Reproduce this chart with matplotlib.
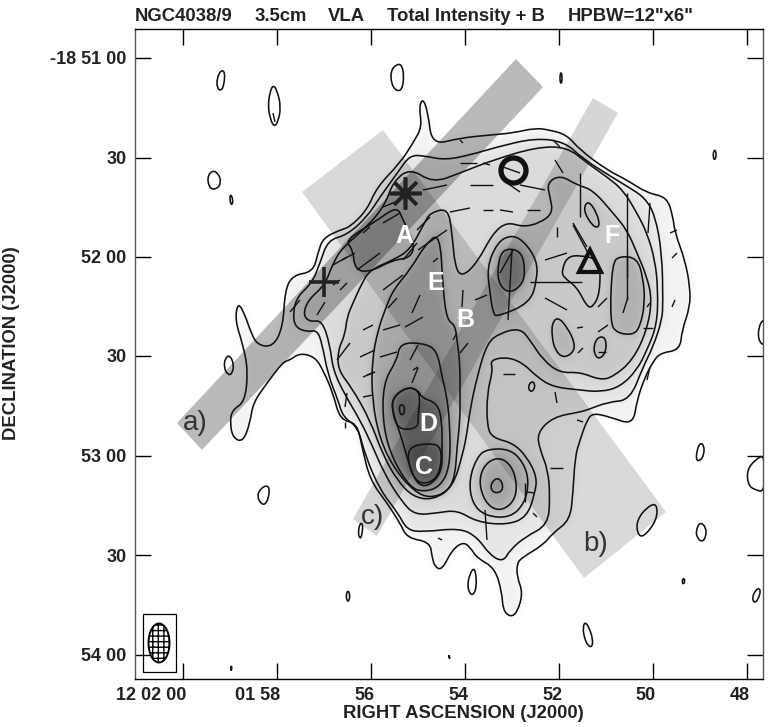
import numpy as np
import matplotlib
matplotlib.use('Agg')
import matplotlib.pyplot as plt
from matplotlib.collections import LineCollection
from matplotlib.patches import Ellipse, PathPatch, Rectangle
from matplotlib.path import Path
from matplotlib.transforms import ScaledTranslation

plt.rcParams['font.family'] = ['Liberation Sans', 'DejaVu Sans']

# everything below is in map cells of the radio image
ra_ticks = [183, 277, 371, 465, 559, 653, 747]
ra_labels = ['12 02 00', '01 58', '56', '54', '52', '50', '48']
dec_ticks = [58, 158, 257, 356, 456, 555.5, 655]
dec_labels = ['-18 51 00', '30', '52 00', '30', '53 00', '30', '54 00']

outer = [(423,98),(428,113),(432,145),(460,138),(490,135),(513,133),(535,128),(550,130),(567,135),(580,150),(607,170),(627,180),(647,193),(667,197),(673,217),(675,233),(685,260),(690,287),(690,307),(682,330),(680,350),(660,353),(653,362),(645,377),(637,400),(633,425),(610,417),(593,413),(587,420),(580,440),(575,457),(573,493),(570,520),(553,533),(543,545),(523,557),(517,563),(517,577),(523,593),(517,613),(510,617),(503,610),(502,593),(495,568),(477,558),(470,547),(463,542),(452,550),(442,570),(435,567),(432,557),(430,542),(407,538),(400,523),(387,503),(370,480),(362,447),(357,423),(340,420),(333,393),(323,370),(315,357),(300,353),(290,360),(283,362),(267,383),(253,403),(250,423),(243,442),(233,438),(230,423),(232,410),(245,402),(248,370),(243,345),(235,320),(238,302),(245,315),(250,330),(257,345),(273,347),(283,327),(285,290),(293,275),(313,272),(318,253),(323,238),(340,230),(350,227),(367,210),(377,187),(400,163),(413,143),(422,127),(419,107)]
level2 = [(398,172),(410,155),(425,156),(445,160),(470,155),(497,147),(535,138),(565,142),(582,158),(610,176),(630,188),(645,198),(655,215),(662,253),(663,303),(662,320),(653,347),(643,367),(630,400),(608,402),(587,410),(580,412),(553,417),(537,433),(540,450),(548,470),(550,497),(548,525),(525,537),(510,550),(503,562),(490,555),(477,537),(460,528),(423,532),(407,530),(398,513),(380,490),(365,455),(358,427),(343,417),(338,400),(328,375),(322,343),(317,330),(307,332),(295,327),(293,313),(297,297),(312,283),(320,263),(328,240),(347,235),(367,217),(380,197)]
level3 = [(393,182),(410,168),(433,183),(460,173),(493,160),(537,147),(567,147),(587,163),(607,177),(623,190),(637,213),(647,233),(655,260),(658,290),(657,325),(647,350),(637,370),(620,387),(600,392),(580,390),(553,387),(537,377),(523,363),(507,357),(490,360),(493,370),(487,393),(487,427),(493,438),(513,443),(527,457),(537,477),(535,493),(527,517),(507,525),(477,522),(457,510),(437,513),(415,515),(402,502),(385,475),(372,445),(360,420),(345,395),(333,370),(330,345),(322,320),(310,322),(303,315),(308,300),(325,285),(333,263),(343,247),(367,227),(385,205)]
level4 = [(338,370),(338,350),(345,335),(347,317),(353,303),(362,283),(370,270),(393,260),(410,250),(425,222),(430,213),(448,208),(452,233),(455,267),(462,277),(477,263),(493,233),(507,222),(523,227),(540,223),(553,213),(550,197),(547,183),(560,175),(577,185),(593,190),(613,213),(627,230),(637,253),(647,277),(652,300),(647,330),(633,360),(613,377),(600,380),(580,372),(560,373),(543,360),(530,340),(520,328),(500,333),(487,343),(477,377),(470,410),(467,433),(463,453),(453,487),(433,500),(413,497),(397,480),(383,455),(370,420),(352,388)]
level5 = [(443,290),(447,320),(455,325),(457,340),(460,363),(460,397),(460,420),(457,447),(455,477),(447,492),(430,498),(415,492),(395,470),(380,440),(372,400),(372,360),(378,330),(385,310),(393,290),(410,270),(425,245),(440,232)]
core1 = [(400,343),(423,343),(437,350),(442,377),(447,397),(450,427),(450,467),(440,487),(423,492),(410,487),(393,460),(383,427),(383,383),(397,360)]
core2 = [(393,397),(407,387),(418,390),(422,398),(437,403),(442,420),(442,450),(442,470),(433,483),(422,487),(413,477),(405,450),(400,433),(392,410)]
core_d = [(393,397),(407,387),(418,390),(420,400),(418,417),(418,427),(407,430),(397,427),(392,410)]
core_d2 = [(399,406),(403,404),(405,410),(403,415),(400,414)]
core_c = [(407,447),(430,443),(442,447),(440,473),(430,483),(418,483),(410,470)]
south1 = [(469,480),(477,457),(487,449),(510,449),(523,462),(529,480),(525,503),(510,518),(485,516),(472,503)]
south2 = [(479,483),(483,467),(494,458),(506,460),(515,473),(517,493),(510,506),(497,511),(485,502)]
south3 = [(490,485),(497,477),(503,483),(502,492),(493,493)]
north1 = [(493,313),(497,317),(530,303),(537,280),(537,260),(523,240),(510,235),(497,243),(487,267),(490,293)]
north2 = [(497,277),(500,253),(510,248),(522,253),(525,270),(523,283),(513,292),(503,290)]
east1 = [(612,263),(620,256),(637,258),(643,277),(645,303),(640,327),(633,335),(617,333),(610,323)]
east2 = [(552,323),(558,317),(567,327),(575,343),(573,353),(563,358),(555,350),(552,337)]
east3 = [(593,350),(597,337),(606,337),(606,353),(598,360)]
east4 = [(583,210),(588,200),(597,213),(600,227),(593,227)]
east5 = [(562,270),(567,257),(580,255),(600,260),(600,293),(593,307),(587,307),(577,287),(563,277)]
ridge_a = [(345,240),(375,222),(397,206),(403,220),(415,245),(410,258),(393,260),(370,272),(355,270),(353,250)]

levels = [outer, level2, level3, level4, level5, core1, core2, core_d, core_d2, core_c,
          south1, south2, south3, north1, north2, east1, east2, east3, east4, east5, ridge_a]
depth = [.95, .95, .95, .92, .84, .85, .78, .88, .9, .78,
         .92, .84, .86, .88, .72, .88, .9, .92, .92, 1.0, .9]

islands = [
    [(221,70),(225,72),(224,85),(221,91),(217,88),(217,78)],
    [(273,85),(277,90),(281,107),(278,122),(274,127),(270,118),(268,105),(270,92)],
    [(207,178),(212,170),(219,174),(221,183),(217,189),(210,189)],
    [(230,195),(232,196),(233,203),(231,205),(230,200)],
    [(397,64),(402,65),(404,77),(402,90),(396,91),(391,83),(391,70)],
    [(560,73),(562,73),(562,83),(560,83)],
    [(714,150),(716,151),(716,158),(714,160),(713,155)],
    [(765,318),(759,325),(758,340),(765,347)],
    [(765,454),(755,460),(747,470),(748,485),(755,490),(765,492)],
    [(700,443),(704,445),(704,455),(700,461),(696,460),(697,450)],
    [(657,503),(657,520),(643,538),(637,533),(637,520),(647,507)],
    [(700,522),(706,527),(706,537),(702,542),(697,538),(696,530)],
    [(683,578),(685,580),(684,584),(682,583)],
    [(757,588),(761,590),(758,600),(754,603),(752,597)],
    [(585,622),(589,627),(593,640),(592,647),(588,646),(584,637),(583,627)],
    [(475,567),(477,587),(472,597),(467,587),(470,573)],
    [(449,654),(450,660),(449,657)],
    [(532,381),(535,384),(534,390),(530,392),(528,386)],
    [(267,485),(270,490),(267,503),(262,505),(257,497),(260,489)],
    [(348,590),(350,595),(349,601),(347,601),(346,595)],
    [(360,523),(363,524),(362,535),(360,539),(358,533)],
    [(231,665),(232,668),(231,672)],
    [(225,358),(230,355),(234,365),(232,374),(228,375),(224,368)],
]

# polarisation vectors, start and end
b_x0 = [342,317,333,357,383,388,412,405,363,383,360,380,363,410,412,463,475,460,453,433,418,337,403,500,508,530,545,545,588,627,623,598,577,598,578,598,503,647,643,672,672,423,450,483,500,527,460,483,503,507,470,520,555,580,557,573,627,650,670,383,417,553,460,555,550,527,485,577,533,438,525,413,650,333,290,363,383,340,273,345,347,363,367]
b_y0 = [260,315,285,270,290,308,313,327,330,330,357,357,377,360,383,290,300,353,340,262,250,360,260,273,320,282,260,298,253,257,313,307,328,332,353,352,374,307,328,258,307,190,212,210,210,210,163,163,167,183,185,185,160,173,227,223,193,203,233,207,230,140,140,392,468,492,510,420,513,538,483,370,367,265,312,233,223,290,113,422,393,397,375]
b_x1 = [355,325,340,380,403,397,420,423,373,400,375,397,375,418,418,462,487,468,457,438,447,350,417,513,512,582,567,567,573,627,628,607,583,608,583,606,515,650,653,677,675,447,470,493,513,540,477,490,520,520,493,545,563,580,557,587,627,648,677,400,430,560,463,557,563,535,487,583,537,442,525,418,647,347,300,370,400,347,275,345,345,373,375]
b_y1 = [253,302,280,253,275,298,295,317,325,325,350,352,372,345,368,307,295,343,333,258,230,343,243,250,250,282,253,310,225,277,297,298,327,325,348,352,374,303,328,253,300,185,208,210,212,210,163,165,173,192,185,190,173,217,237,247,300,233,230,200,217,147,143,403,468,493,540,422,517,540,502,367,380,257,300,227,213,283,122,428,407,395,372]

# the three strips laid over the map
strip_a = [(177,423),(516,59),(543,87),(202,450)]
strip_b = [(302,192),(383,130),(666,512),(584,578)]
strip_c = [(353,519),(593,98),(618,113),(377,536)]

cross_pos = (324, 282)
star_pos = (405, 193)
ring_pos = (513, 170)
tri_pos = (590, 261)
letters = {'A': (404, 236), 'E': (436, 283), 'B': (465, 320), 'D': (428, 424), 'C': (424, 467), 'F': (612, 236)}
strip_names = {'a)': (195, 423), 'b)': (596, 544), 'c)': (372, 517)}
title_bits = [('NGC4038/9', 135), ('3.5cm', 255), ('VLA', 328), ('Total Intensity + B', 387), ('HPBW=12"x6"', 568)]


def smooth_path(poly):
    # closed quadratic curve, the read points act as control points
    n = len(poly)
    mids = [((poly[i][0] + poly[(i + 1) % n][0]) / 2, (poly[i][1] + poly[(i + 1) % n][1]) / 2) for i in range(n)]
    verts = [mids[-1]]
    codes = [Path.MOVETO]
    for i in range(n):
        verts += [poly[i], mids[i]]
        codes += [Path.CURVE3, Path.CURVE3]
    return Path(verts, codes)


def blur(a, sigma):
    r = int(3 * sigma)
    k = np.exp(-0.5 * (np.arange(-r, r + 1) / sigma) ** 2)
    k = k / k.sum()
    pad = np.pad(a, r, mode='edge')
    pad = np.apply_along_axis(lambda m: np.convolve(m, k, mode='same'), 0, pad)
    pad = np.apply_along_axis(lambda m: np.convolve(m, k, mode='same'), 1, pad)
    return pad[r:-r, r:-r]


xs = np.arange(135, 764)
ys = np.arange(29, 680)
gx, gy = np.meshgrid(xs, ys)
pts = np.column_stack((gx.ravel(), gy.ravel()))
grey = np.ones(gx.shape)
for poly, d in zip(levels, depth):
    inside = Path(poly + [poly[0]]).contains_points(pts).reshape(gx.shape)
    grey[inside] *= d
grey = blur(grey, 4.0)

fig = plt.figure(figsize=(7.71, 7.27), dpi=100)
ax = fig.add_axes([135 / 771, (727 - 679) / 727, 628 / 771, 650 / 727])
ax.imshow(grey, cmap='gray', vmin=0, vmax=1, extent=(135, 763, 679, 29), aspect='auto', zorder=1)

ax.fill(*zip(*strip_b), color='k', alpha=0.15, lw=0, zorder=2)
ax.fill(*zip(*strip_c), color='k', alpha=0.16, lw=0, zorder=2)
ax.fill(*zip(*strip_a), color='k', alpha=0.27, lw=0, zorder=2)

for poly in levels + islands:
    ax.add_patch(PathPatch(smooth_path(poly), fill=False, ec='#111111', lw=1.15, zorder=3))

segs = [[(a, b), (c, d)] for a, b, c, d in zip(b_x0, b_y0, b_x1, b_y1)]
ax.add_collection(LineCollection(segs, colors='#111111', linewidths=1.0, zorder=4))

ax.plot(*cross_pos, marker='+', ms=22, mew=2.6, color='#222222', zorder=5)
ax.plot(*star_pos, marker=(8, 2, 0), ms=23, mew=2.6, color='#222222', zorder=5)
ax.plot(*ring_pos, marker='o', ms=18, mew=3.8, mfc='none', mec='#111111', zorder=5)
ax.plot(*tri_pos, marker='^', ms=16, mew=3.0, mfc='none', mec='#111111', zorder=5)

for name, (x, y) in letters.items():
    ax.text(x, y, name, color='white', fontsize=18, fontweight='bold', ha='center', va='center', zorder=6)
for name, (x, y) in strip_names.items():
    ax.text(x, y, name, color='#333333', fontsize=20, ha='center', va='center', zorder=6)

# beam in the corner
ax.add_patch(Rectangle((143, 614), 33, 58, fill=False, ec='k', lw=0.9, zorder=5))
plt.rcParams['hatch.linewidth'] = 1.0
ax.add_patch(Ellipse((159, 643), 21, 39, fill=False, ec='k', lw=1.4, hatch='+++', zorder=5))

ax.set_xlim(135, 763)
ax.set_ylim(679, 29)
ax.set_xticks(ra_ticks, ra_labels)
ax.set_yticks(dec_ticks, dec_labels)
ax.tick_params(direction='in', length=11.5, width=1, top=True, right=True, labelsize=13, pad=6)
for lab in ax.get_xticklabels():
    lab.set_ha('right')
    lab.set_fontweight('bold')
    lab.set_color('#222222')
    lab.set_transform(lab.get_transform() + ScaledTranslation(3 / 100, 0, fig.dpi_scale_trans))
for lab in ax.get_yticklabels():
    lab.set_fontweight('bold')
    lab.set_color('#222222')
for side in ['left', 'right']:
    ax.spines[side].set_color('#555555')
for side in ax.spines:
    ax.spines[side].set_linewidth(1.0)

ax.set_xlabel('RIGHT ASCENSION (J2000)', fontsize=13.3, fontweight='bold', color='#222222', va='center')
ax.xaxis.set_label_coords(463.5, 714, transform=ax.transData)
ax.set_ylabel('DECLINATION (J2000)', fontsize=13.3, fontweight='bold', color='#222222', va='center')
ax.yaxis.set_label_coords(12, 343, transform=ax.transData)

for txt, x in title_bits:
    ax.text(x, 17, txt, fontsize=13.3, fontweight='bold', color='#222222', ha='left', va='center', clip_on=False)

fig.savefig('out.png', dpi=100)
